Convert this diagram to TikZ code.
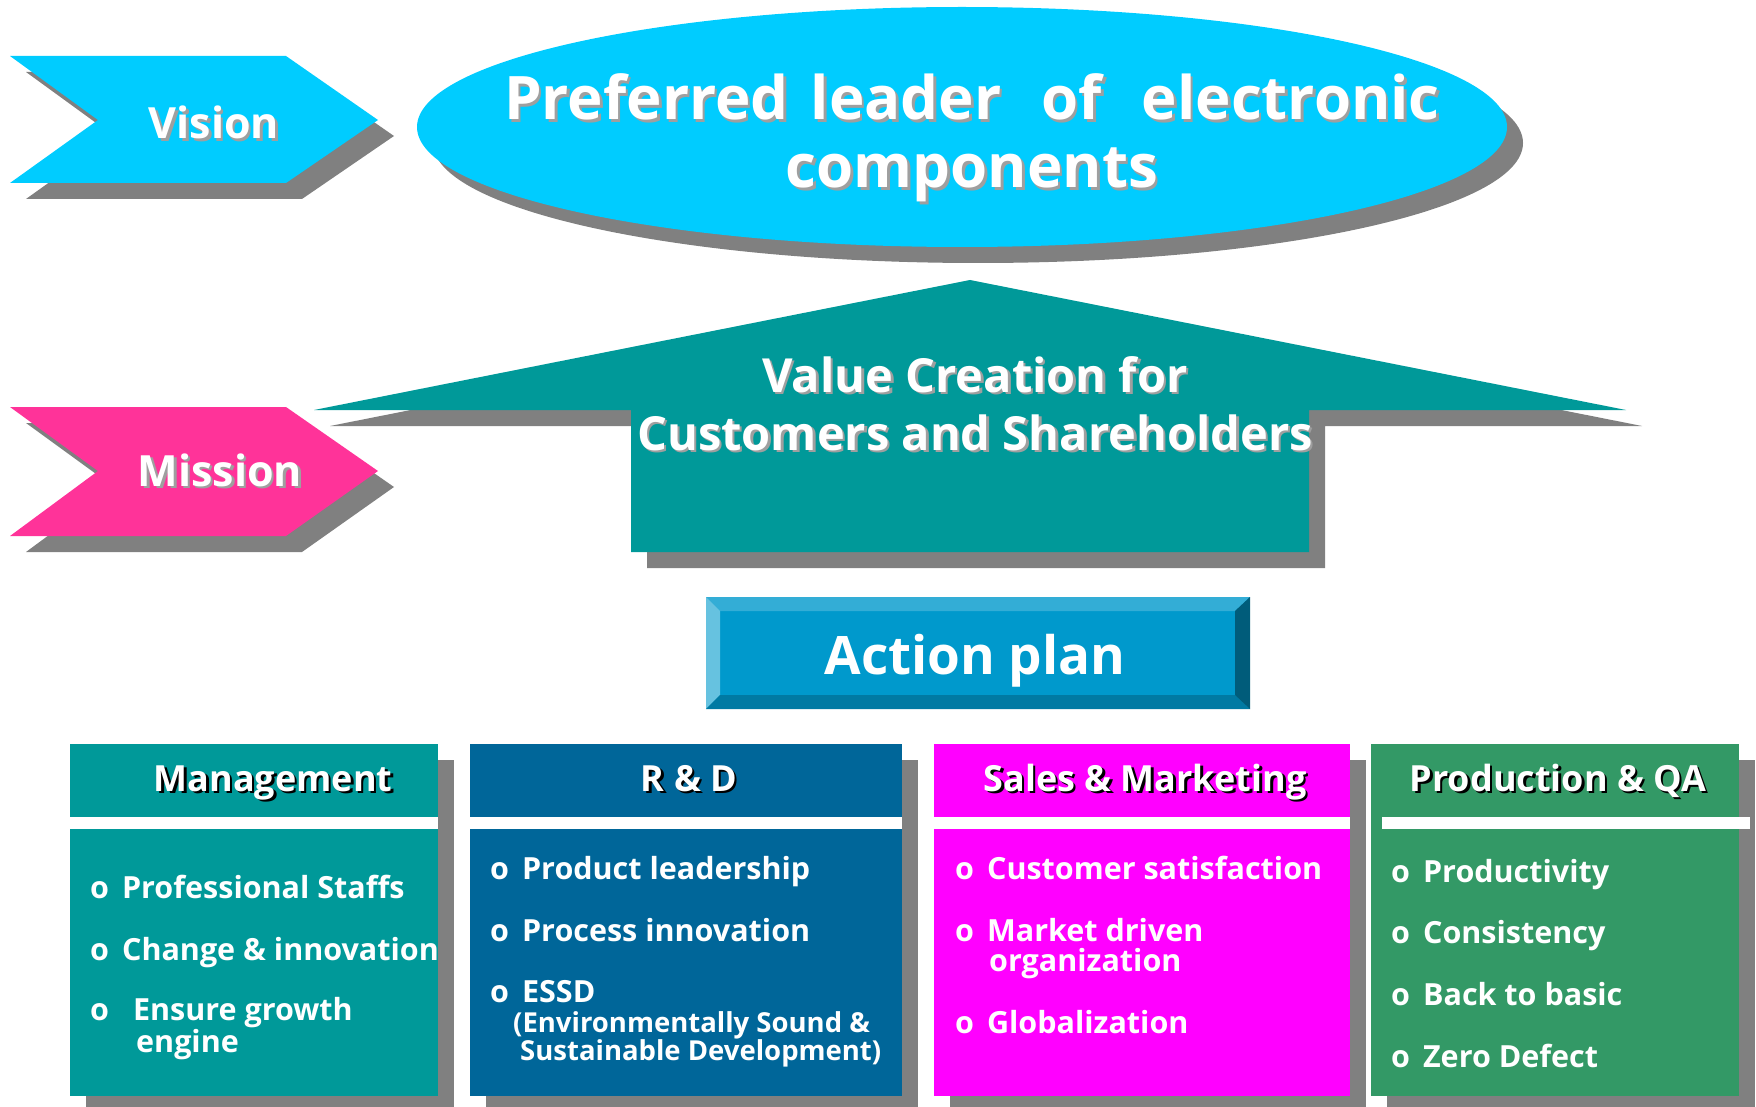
\documentclass[tikz,border=0pt]{standalone}
\usepackage{fontspec}
\setmainfont{Open Sans}
\usetikzlibrary{shadows}
\definecolor{visionblue}{RGB}{0,204,255}
\definecolor{missionpink}{RGB}{255,51,153}
\definecolor{valueteal}{RGB}{0,153,153}
\definecolor{rdblue}{RGB}{0,102,153}
\definecolor{salesmagenta}{RGB}{255,0,255}
\definecolor{prodgreen}{RGB}{51,153,102}
\definecolor{shadegrey}{RGB}{128,128,128}
\definecolor{planface}{RGB}{0,153,204}
\definecolor{plantop}{RGB}{51,173,214}
\definecolor{planleft}{RGB}{102,194,224}
\definecolor{planbottom}{RGB}{0,122,163}
\definecolor{planright}{RGB}{0,92,122}

% white text with a small offset shadow behind it
\newcommand{\shtext}[2][black]{\leavevmode\rlap{\kern2.5pt\raisebox{-2.5pt}{\color{#1}#2}}#2}
\newcommand{\itm}{o\hspace{13pt}}

\tikzset{
  boxshadow/.style={drop shadow={shadow xshift=16pt,shadow yshift=-16pt,fill=shadegrey,opacity=1}},
  chevtext/.style={anchor=base,text=white,inner sep=0,font=\bfseries\fontsize{43}{48}\selectfont},
  bigtext/.style={anchor=base,text=white,inner sep=0,align=center,font=\bfseries\fontsize{60}{68}\selectfont},
  valuetext/.style={anchor=base,text=white,inner sep=0,align=center,font=\bfseries\fontsize{47}{58}\selectfont},
  plantext/.style={anchor=base,text=white,inner sep=0,font=\bfseries\fontsize{53}{60}\selectfont},
  headtext/.style={anchor=base,text=white,inner sep=0,font=\bfseries\fontsize{36}{40}\selectfont},
  itemtext/.style={anchor=base west,text=white,inner sep=0,align=left,font=\bfseries\fontsize{30.5}{30}\selectfont},
  subtext/.style={anchor=base west,text=white,inner sep=0,align=left,font=\bfseries\fontsize{27.5}{28}\selectfont}
}

\begin{document}
\begin{tikzpicture}[x=1pt,y=-1pt]
\useasboundingbox (0,0) rectangle (1756,1107);

% vision
\fill[visionblue,boxshadow] (10,56) -- (286,56) -- (378,120) -- (286,183) -- (10,183) -- (98,120) -- cycle;
\node[chevtext] (vision) at (214,139) {\shtext[gray!75]{Vision}};
\fill[visionblue,boxshadow] (962,127) ellipse [x radius=545pt,y radius=120pt];
\node[bigtext] (leader) at (972,188) {\shtext[gray!75]{Preferred\hspace{22pt}leader\hspace{40pt}of\hspace{40pt}electronic}\\\shtext[gray!75]{components}};

% mission
\fill[missionpink,boxshadow] (10,407) -- (286,407) -- (378,471) -- (286,536) -- (10,536) -- (98,471) -- cycle;
\node[chevtext] (mission) at (220,486) {\shtext[gray!75]{Mission}};
\fill[valueteal,boxshadow] (970,280) -- (1626,410) -- (1309,410) -- (1309,552) -- (631,552) -- (631,410) -- (314,410) -- cycle;
\node[valuetext] (value) at (975,450) {\shtext[gray!75]{Value Creation for}\\\shtext[gray!75]{Customers and Shareholders}};

% action plan
\fill[planface] (706,597) rectangle (1250,709);
\fill[plantop] (706,597) -- (1250,597) -- (1235,611) -- (720,611) -- cycle;
\fill[planleft] (706,597) -- (720,611) -- (720,695) -- (706,709) -- cycle;
\fill[planbottom] (706,709) -- (720,695) -- (1235,695) -- (1250,709) -- cycle;
\fill[planright] (1250,597) -- (1235,611) -- (1235,695) -- (1250,709) -- cycle;
\node[plantext] (plan) at (975,674) {Action plan};

% management
\fill[valueteal,boxshadow] (70,744) rectangle (438,1096);
\fill[white] (70,817) rectangle (438,829);
\node[headtext] (mgmt) at (273,791) {\shtext{Management}};
\node[itemtext] (staffs) at (90,898) {\itm Professional Staffs};
\node[itemtext] (change) at (90,960) {\itm Change \& innovation};
\node[itemtext] (growth) at (90,1052) {o\hspace{24pt}Ensure growth\\\hspace*{46pt}engine};

% r & d
\fill[rdblue,boxshadow] (470,744) rectangle (902,1096);
\fill[white] (470,817) rectangle (902,829);
\node[headtext] (rnd) at (689,791) {\shtext{R \& D}};
\node[itemtext] (product) at (490,879) {\itm Product leadership};
\node[itemtext] (process) at (490,941) {\itm Process innovation};
\node[itemtext] (essd) at (490,1002) {\itm ESSD};
\node[subtext] (essdlong) at (513,1060) {(Environmentally Sound \&\\\hspace*{7pt}Sustainable Development)};

% sales & marketing
\fill[salesmagenta,boxshadow] (934,744) rectangle (1350,1096);
\fill[white] (934,817) rectangle (1350,829);
\node[headtext] (sales) at (1145,791) {\shtext{Sales \& Marketing}};
\node[itemtext] (satisf) at (955,879) {\itm Customer satisfaction};
\node[itemtext] (market) at (955,971) {\itm Market driven\\\hspace*{34pt}organization};
\node[itemtext] (global) at (955,1033) {\itm Globalization};

% production & qa
\fill[prodgreen,boxshadow] (1371,744) rectangle (1739,1096);
\fill[white] (1382,817) rectangle (1750,829);
\node[headtext] (prod) at (1558,791) {\shtext{Production \& QA}};
\node[itemtext] (productiv) at (1391,882) {\itm Productivity};
\node[itemtext] (consist) at (1391,943) {\itm Consistency};
\node[itemtext] (basic) at (1391,1005) {\itm Back to basic};
\node[itemtext] (defect) at (1391,1067) {\itm Zero Defect};
\end{tikzpicture}
\end{document}
